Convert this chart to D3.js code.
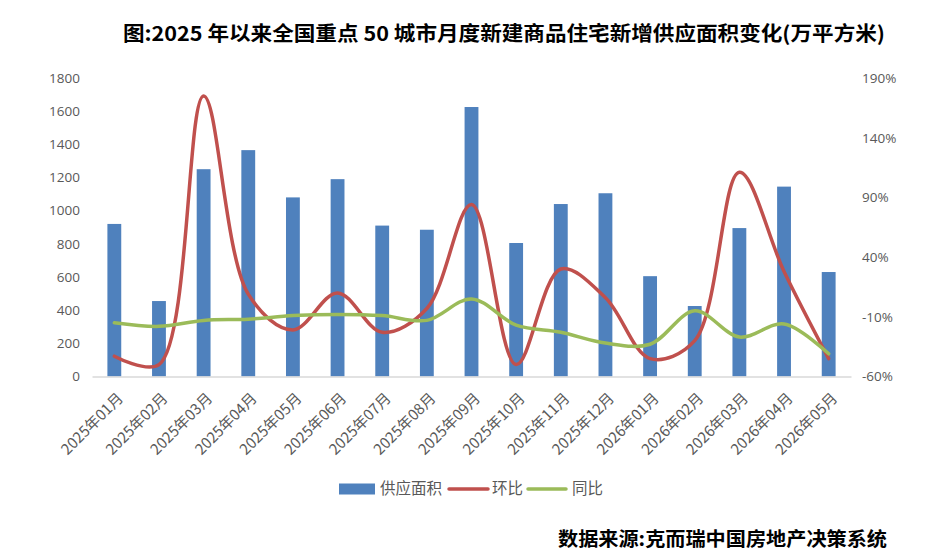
<!DOCTYPE html>
<html>
<head>
<meta charset="utf-8">
<script src="https://cdn.jsdelivr.net/npm/d3@7"></script>
<style>
  body { margin: 0; background: #fff; }
  svg text { font-family: "Open Sans", "Noto Sans CJK SC", sans-serif; }
</style>
</head>
<body>
<div id="chart"></div>
<script>
// chart data
var months = ["2025年01月", "2025年02月", "2025年03月", "2025年04月", "2025年05月", "2025年06月",
  "2025年07月", "2025年08月", "2025年09月", "2025年10月", "2025年11月", "2025年12月",
  "2026年01月", "2026年02月", "2026年03月", "2026年04月", "2026年05月"]
var supply = [920, 455, 1250, 1365, 1080, 1190, 910, 885, 1625, 805, 1040, 1105, 605, 425, 895, 1145, 630]
var mom = [-43, -50, 175, 9, -21, 10, -23, -3, 84, -50, 30, 6, -45, -30, 111, 28, -45]
var yoy = [-15, -18, -13, -12, -9, -8, -9, -13, 5, -17, -23, -32, -33, -5, -27, -16, -41]
var leftTicks = [0, 200, 400, 600, 800, 1000, 1200, 1400, 1600, 1800]
var rightTicks = [-60, -10, 40, 90, 140, 190]
var legendNames = ["供应面积", "环比", "同比"]

var W = 928, H = 551
var svg = d3.select("#chart").append("svg")
    .attr("width", W)
    .attr("height", H)

const x = d3.scaleBand()
    .domain(months)
    .range([92, 851])
    .paddingInner(0.69)
    .paddingOuter(0.345)

const y = d3.scaleLinear().domain([0, 1800]).range([376.5, 78])
const y2 = d3.scaleLinear().domain([-60, 190]).range([376.5, 78])

// title
svg.append("text")
    .attr("x", 123)
    .attr("y", 41)
    .attr("textLength", 762)
    .attr("lengthAdjust", "spacingAndGlyphs")
    .style("font-family", "'Noto Sans CJK SC', sans-serif")
    .style("font-size", "20px")
    .style("font-weight", "bold")
    .style("fill", "#000")
    .text("图:2025 年以来全国重点 50 城市月度新建商品住宅新增供应面积变化(万平方米)")

// bars
svg.selectAll(".bar")
    .data(supply)
    .join("rect")
    .attr("class", "bar")
    .attr("x", (d, i) => x(months[i]))
    .attr("y", d => y(d))
    .attr("width", x.bandwidth())
    .attr("height", d => y(0) - y(d))
    .attr("fill", "#4F81BD")

// axes
var gx = svg.append("g")
    .attr("transform", "translate(0," + y(0) + ")")
    .call(d3.axisBottom(x).tickSize(0).tickPadding(0))
gx.select(".domain").attr("stroke", "#D9D9D9").attr("stroke-width", 1.5)
gx.selectAll("text")
    .attr("transform", "translate(6,19)rotate(-45)")
    .attr("dy", "0.35em")
    .style("text-anchor", "end")
    .style("font-family", "'Noto Sans CJK SC', sans-serif")
    .style("font-size", "15px")
    .style("fill", "#595959")

var gl = svg.append("g")
    .attr("transform", "translate(80,0)")
    .call(d3.axisLeft(y).tickValues(leftTicks).tickSize(0).tickPadding(0).tickFormat(d => d))
gl.select(".domain").remove()
gl.selectAll("text").style("font-size", "13.5px").style("fill", "#595959")

var gr = svg.append("g")
    .attr("transform", "translate(862,0)")
    .call(d3.axisRight(y2).tickValues(rightTicks).tickSize(0).tickPadding(0).tickFormat(d => d + "%"))
gr.select(".domain").remove()
gr.selectAll("text").style("font-size", "13.5px").style("fill", "#595959")

// lines
var cx = d => x(d) + x.bandwidth() / 2
var line = d3.line()
    .x((d, i) => cx(months[i]))
    .y(d => y2(d))
    .curve(d3.curveCatmullRom.alpha(0.5))

svg.append("path")
    .datum(mom)
    .attr("d", line)
    .attr("fill", "none")
    .attr("stroke", "#C0504D")
    .attr("stroke-width", 3.5)
    .attr("stroke-linecap", "round")

svg.append("path")
    .datum(yoy)
    .attr("d", line)
    .attr("fill", "none")
    .attr("stroke", "#9BBB59")
    .attr("stroke-width", 3.5)
    .attr("stroke-linecap", "round")

// legend
var lg = svg.append("g").attr("transform", "translate(0,489)")
lg.append("rect").attr("x", 339).attr("y", -5.5).attr("width", 36).attr("height", 11).attr("fill", "#4F81BD")
lg.append("line").attr("x1", 449).attr("x2", 488).attr("stroke", "#C0504D").attr("stroke-width", 3.5).attr("stroke-linecap", "round")
lg.append("line").attr("x1", 528).attr("x2", 566).attr("stroke", "#9BBB59").attr("stroke-width", 3.5).attr("stroke-linecap", "round")
var lx = [380, 492, 572]
lg.selectAll(".lt")
    .data(legendNames)
    .join("text")
    .attr("x", (d, i) => lx[i])
    .attr("y", 0)
    .attr("dy", "0.35em")
    .style("font-family", "'Noto Sans CJK SC', sans-serif")
    .style("font-size", "15.5px")
    .style("fill", "#595959")
    .text(d => d)

// source
svg.append("text")
    .attr("x", 558)
    .attr("y", 546)
    .attr("textLength", 329)
    .attr("lengthAdjust", "spacingAndGlyphs")
    .style("font-family", "'Noto Sans CJK SC', sans-serif")
    .style("font-size", "19px")
    .style("font-weight", "bold")
    .style("fill", "#000")
    .text("数据来源:克而瑞中国房地产决策系统")
</script>
</body>
</html>
